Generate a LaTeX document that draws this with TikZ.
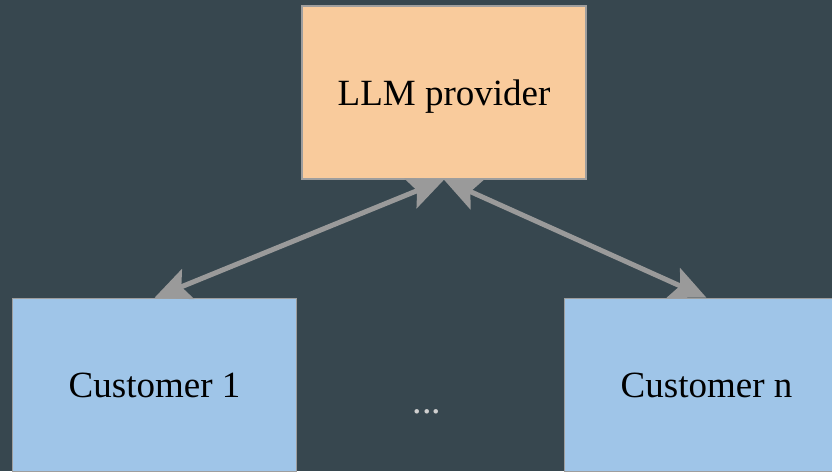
\documentclass[tikz,border=0pt]{standalone}
\usepackage{fontspec}
\setmainfont{Liberation Serif}
\usetikzlibrary{arrows.meta}
\definecolor{bgc}{HTML}{37474F}
\definecolor{orangefill}{HTML}{F9CB9C}
\definecolor{bluefill}{HTML}{9FC5E8}
\definecolor{bordc}{HTML}{9E9E9E}
\definecolor{arrowc}{HTML}{9A9A9A}
\definecolor{dotc}{HTML}{D0D0D0}
\begin{document}
\begin{tikzpicture}[x=1pt,y=1pt,
  boxst/.style={draw=bordc, line width=1.5pt, minimum width=284pt, minimum height=173pt, inner sep=0pt, text depth=0pt, font=\fontsize{37}{40}\selectfont, text=black},
  conn/.style={draw=arrowc, line width=5pt, {Stealth[length=36pt,width=32pt,inset=7pt]}-{Stealth[length=36pt,width=32pt,inset=7pt]}}]
\fill[bgc] (0,0) rectangle (832,471);
\useasboundingbox (0,0) rectangle (832,471);
\clip (0,0) rectangle (832,471);
\node[boxst, fill=orangefill] (llm) at (444,378.5) {LLM provider};
\node[boxst, fill=bluefill] (c1) at (154.5,86) {Customer 1};
\node[boxst, fill=bluefill] (cn) at (706.5,86) {Customer n};
\node[text=dotc, font=\fontsize{38}{40}\selectfont] (dots) at (427,59) {...};
\draw[conn] (c1.north) -- (llm.south);
\draw[conn] (cn.north) -- (llm.south);
\end{tikzpicture}
\end{document}
